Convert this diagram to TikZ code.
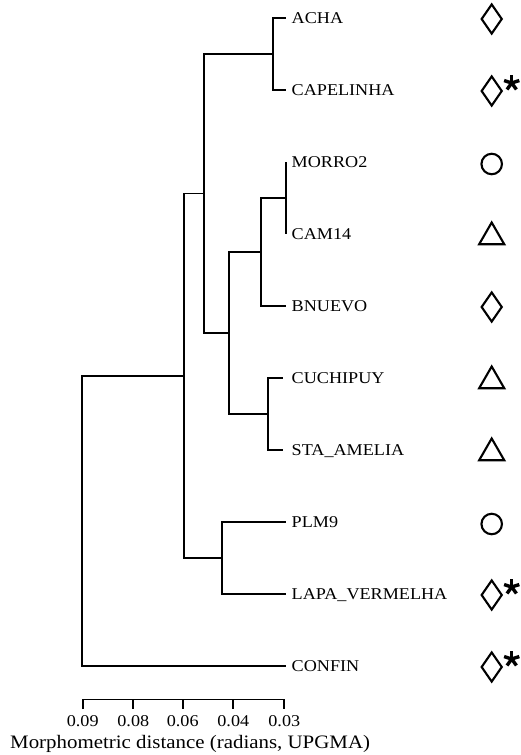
\documentclass[tikz,border=0pt]{standalone}
\usepackage{fontspec}
\setmainfont{Liberation Serif}[FakeStretch=1.1]
\usetikzlibrary{
	positioning,
	shapes.geometric
}

\begin{document}
\begin{tikzpicture}[
		x=1pt, y=-1pt,
		branch/.style={draw, line width=1.7pt},
		leaf/.style={anchor=west, inner sep=0pt, text height=10.9pt, text depth=0pt, font=\fontsize{16.5}{18}\selectfont},
		ticklabel/.style={anchor=base, inner sep=0pt, font=\fontsize{16.5}{18}\selectfont},
		dia/.style={draw, diamond, line width=2.1pt, minimum width=21pt, minimum height=30pt, inner sep=0pt, yshift=-1pt},
		ring/.style={draw, circle, line width=2.1pt, minimum size=20.5pt, inner sep=0pt, yshift=-2pt},
		tri/.style={draw, regular polygon, regular polygon sides=3, line width=2.1pt, minimum size=29pt, inner sep=0pt, yshift=-3pt},
		asterisk/.pic={\foreach \a in {90,162,234,306,18} \draw[line width=3.4pt] (0,0) -- (\a:8pt);}
		]
		
		\useasboundingbox (0,0) rectangle (521,755);
		
		% leaves, labels and type symbols
		\foreach \n/\t/\i/\s in {acha/ACHA/0/dia, capelinha/CAPELINHA/1/dia, morro/MORRO2/2/ring, cam/CAM14/3/tri, bnuevo/BNUEVO/4/dia, cuchipuy/CUCHIPUY/5/tri, sta/STA\_AMELIA/6/tri, plm/PLM9/7/ring, lapa/LAPA\_VERMELHA/8/dia, confin/CONFIN/9/dia} {
			\coordinate (\n) at (286, 18+72*\i);
			\node[leaf, right=5.5pt of \n] (\n-l) {\t};
			\node[\s] (\n-s) at (491.7, 18+72*\i) {};
		}
		\pic at ([xshift=20pt, yshift=8pt]capelinha-s) {asterisk};
		\pic at ([xshift=20pt, yshift=8pt]lapa-s) {asterisk};
		\pic at ([xshift=20pt, yshift=8pt]confin-s) {asterisk};
		
		% joins
		\coordinate (n1) at (272.7, 54);
		\coordinate (n2) at (286, 198);
		\coordinate (n3) at (260.7, 252);
		\coordinate (n4) at (267.7, 414);
		\coordinate (n5) at (228.7, 333);
		\coordinate (n6) at (204.3, 193.5);
		\coordinate (n7) at (221.7, 558);
		\coordinate (n8) at (184.3, 375.75);
		\coordinate (root) at (81.7, 520.9);
		
		\draw[branch] (n1) |- (acha) (n1) |- (capelinha);
		\draw[branch] (n2) |- (morro) (n2) |- (cam);
		\draw[branch] (n3) |- (n2) (n3) |- (bnuevo);
		\draw[branch] (n4) |- ([xshift=-3pt]cuchipuy) (n4) |- ([xshift=-3pt]sta);
		\draw[branch] (n5) |- (n3) (n5) |- (n4);
		\draw[branch] (n6) |- (n1) (n6) |- (n5);
		\draw[branch] (n7) |- (plm) (n7) |- (lapa);
		\draw[branch] (n8) |- (n6) (n8) |- (n7);
		\draw[branch] (root) |- (n8) (root) |- (confin);
		
		% scale
		\draw[branch] (82.7,709) |- (284.3,699.5) -- (284.3,709);
		\foreach \x/\v [count=\k] in {82.7/0.09, 133.3/0.08, 182.7/0.06, 233.3/0.04, 284.3/0.03} {
			\draw[branch] (\x,699.5) -- (\x,709);
			\node[ticklabel] (tick\k) at (\x,726) {\v};
		}
		\node[anchor=base west, inner sep=0pt, font=\fontsize{19}{22}\selectfont] (title) at (10,748) {Morphometric distance (radians, UPGMA)};
		
	\end{tikzpicture}
\end{document}
